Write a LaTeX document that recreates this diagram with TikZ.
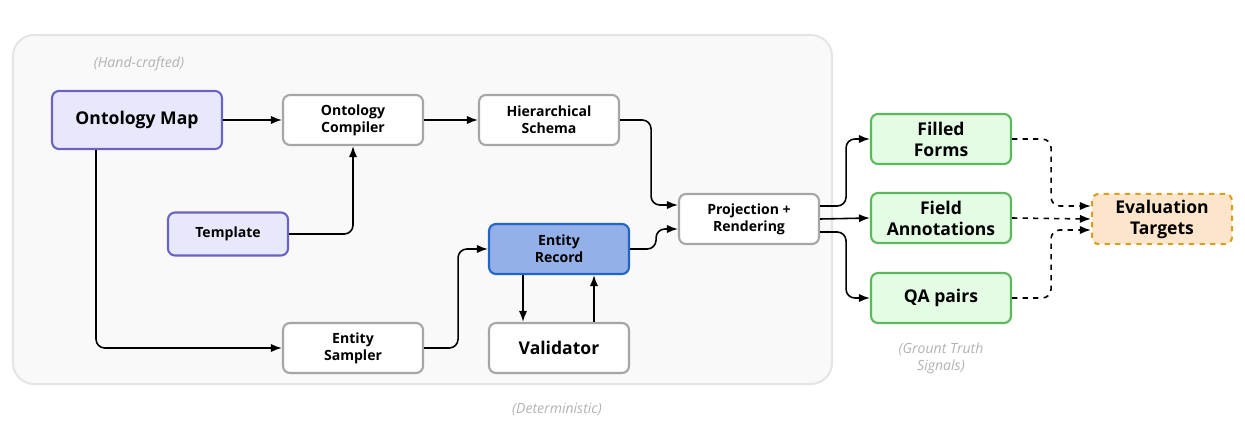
\documentclass[tikz,border=0pt]{standalone}
\usepackage{fontspec}
\setmainfont{Open Sans}
\usetikzlibrary{arrows.meta}
\definecolor{ontfill}{HTML}{E8E8FC}
\definecolor{ontdraw}{HTML}{6A63C0}
\definecolor{recfill}{HTML}{94B0E8}
\definecolor{recdraw}{HTML}{1F66C8}
\definecolor{grnfill}{HTML}{E4FBE4}
\definecolor{grndraw}{HTML}{5CB85C}
\definecolor{evfill}{HTML}{FDE5CC}
\definecolor{evdraw}{HTML}{D9A020}
\tikzset{
  box/.style={draw=gray!70,fill=white,line width=1.2pt,rounded corners=4pt,
    minimum width=2.8cm,minimum height=1cm,align=center,font=\bfseries\footnotesize},
  ontbox/.style={box,draw=ontdraw,fill=ontfill},
  recbox/.style={box,draw=recdraw,fill=recfill},
  outbox/.style={box,draw=grndraw,fill=grnfill,font=\bfseries\normalsize},
  evbox/.style={box,draw=evdraw,fill=evfill,dashed,font=\bfseries\normalsize},
  note/.style={text=gray!60,font=\itshape\footnotesize,align=center},
  link/.style={-{Latex[length=2.2mm]},line width=0.9pt,rounded corners=5pt},
  dlink/.style={link,dashed}
}
\begin{document}
\begin{tikzpicture}[x=0.02cm,y=-0.02cm]
\useasboundingbox (0,0) rectangle (1245,440);
\draw[fill=gray!5,draw=gray!20,line width=1.2pt,rounded corners=12pt] (13,35) rectangle (832,384);
% nodes
\node[ontbox,minimum width=3.4cm,minimum height=1.16cm,font=\bfseries\normalsize] (onto) at (137,120) {Ontology Map};
\node[box] (comp) at (353,120) {Ontology\\Compiler};
\node[box] (schema) at (549,120) {Hierarchical\\Schema};
\node[ontbox,minimum width=2.4cm,minimum height=0.86cm] (tmpl) at (228,234) {Template};
\node[recbox] (record) at (559,249) {Entity\\Record};
\node[box] (sampler) at (353,348) {Entity\\Sampler};
\node[box,font=\bfseries\normalsize] (valid) at (559,348) {Validator};
\node[box] (proj) at (749,219) {Projection +\\Rendering};
\node[outbox] (forms) at (941,139) {Filled\\Forms};
\node[outbox] (annot) at (941,218) {Field\\Annotations};
\node[outbox] (qa) at (941,298) {QA pairs};
\node[evbox] (eval) at (1162,219) {Evaluation\\Targets};
\node[note] (hand) at (139,64) {(Hand-crafted)};
\node[note] (determ) at (557,409) {(Deterministic)};
\node[note] (truth) at (941,358) {(Grount Truth\\Signals)};
% connectors
\draw[link] (onto) -- (comp);
\draw[link] (comp) -- (schema);
\draw[link] (tmpl.east) -| (comp.south);
\draw[link] (onto.south -| 96,0) |- (sampler.west);
\draw[link] (sampler.east) -- ++(34,0) |- (record.west);
\draw[link] (schema.east) -- ++(31,0) |- ([yshift=0.28cm]proj.west);
\draw[link] (record.east) -- ++(26,0) |- ([yshift=-0.2cm]proj.west);
\draw[link] ([xshift=-0.72cm]record.south) -- ([xshift=-0.72cm]valid.north);
\draw[link] ([xshift=0.7cm]valid.north) -- ([xshift=0.7cm]record.south);
\draw[link] ([yshift=0.26cm]proj.east) -- ++(26,0) |- (forms.west);
\draw[link] (proj.east) -- (annot.west);
\draw[link] ([yshift=-0.26cm]proj.east) -- ++(26,0) |- (qa.west);
\draw[dlink] (forms.east) -- ++(39,0) |- ([yshift=0.26cm]eval.west);
\draw[dlink] (annot.east) -- (eval.west);
\draw[dlink] (qa.east) -- ++(39,0) |- ([yshift=-0.22cm]eval.west);
\end{tikzpicture}
\end{document}
